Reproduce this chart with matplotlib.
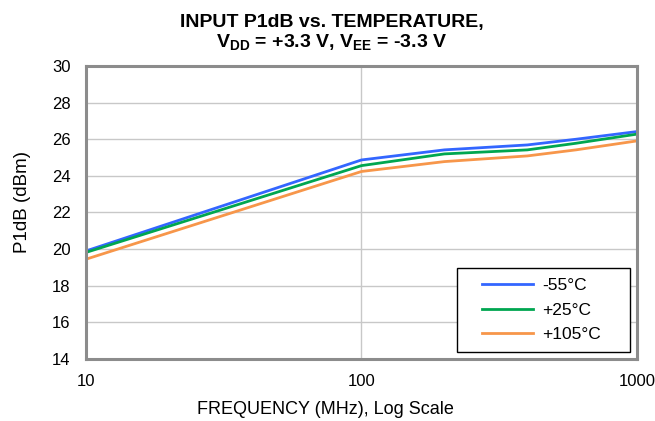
import matplotlib
matplotlib.use("Agg")
import matplotlib.pyplot as plt
from matplotlib.ticker import FixedLocator, NullLocator
from matplotlib.patches import Rectangle

plt.rcParams['font.family'] = ['Liberation Sans', 'DejaVu Sans']
plt.rcParams['mathtext.fontset'] = 'custom'
plt.rcParams['mathtext.rm'] = 'Liberation Sans'
plt.rcParams['mathtext.bf'] = 'Liberation Sans:bold'
plt.rcParams['mathtext.it'] = 'Liberation Sans:italic'

freq = [10, 100, 200, 400, 600, 1000]
p_m55 = [19.90, 24.87, 25.42, 25.69, 26.00, 26.42]
p_25 = [19.82, 24.56, 25.20, 25.42, 25.78, 26.28]
p_105 = [19.45, 24.24, 24.78, 25.09, 25.42, 25.91]
labels = ['-55°C', '+25°C', '+105°C']
colors = ['#3366FF', '#00A650', '#F7964A']

fig = plt.figure(figsize=(6.55, 4.21), dpi=100)
ax = fig.add_axes([0.1313, 0.1473, 0.8412, 0.6959])

for y, lab, c in zip([p_m55, p_25, p_105], labels, colors):
    ax.plot(freq, y, color=c, lw=2.0, label=lab)

ax.set_xscale('log')
ax.set_xlim(10, 1000)
ax.set_ylim(14, 30)
ax.xaxis.set_major_locator(FixedLocator([10, 100, 1000]))
ax.xaxis.set_minor_locator(NullLocator())
ax.set_xticklabels(['10', '100', '1000'])
ax.set_yticks(range(14, 31, 2))
ax.grid(True, color='#C8C8C8', lw=1.0)
ax.set_axisbelow(True)
for s in ax.spines.values():
    s.set_color('#8C8C8C')
    s.set_linewidth(2.2)
ax.tick_params(length=0, labelsize=12, colors='black')
ax.tick_params(axis='y', pad=11)
ax.tick_params(axis='x', pad=11)

ax.set_xlabel('FREQUENCY (MHz), Log Scale', fontsize=13)
ax.set_ylabel('P1dB (dBm)', fontsize=13.5)
ax.xaxis.label.set_va('center')
ax.yaxis.label.set_va('center')
ax.xaxis.set_label_coords(0.434, -0.174)
ax.yaxis.set_label_coords(-0.116, 0.536)

fig.text(0.507, 1 - 26.7 / 421, 'INPUT P1dB vs. TEMPERATURE,', ha='center', va='baseline',
         fontsize=14, fontweight='bold')
fig.text(0.507, 1 - 46.7 / 421,
         r'$\mathbf{V_{DD}}$' + ' = +3.3 V, ' + r'$\mathbf{V_{EE}}$' + ' = -3.3 V',
         ha='center', va='baseline', fontsize=14, fontweight='bold')

# legend frame (wider than content, as in the reference)
ax.add_patch(Rectangle((0.673, 0.024), 0.314, 0.287, transform=ax.transAxes,
                       facecolor='white', edgecolor='black', lw=1.0, zorder=4))
leg = ax.legend(loc='center', bbox_to_anchor=(0.827, 0.167), fontsize=12.5,
                frameon=False, handlelength=2.9, borderpad=0.2,
                labelspacing=0.55, handletextpad=0.55)
leg.set_zorder(5)

fig.savefig('out.png', dpi=100)
